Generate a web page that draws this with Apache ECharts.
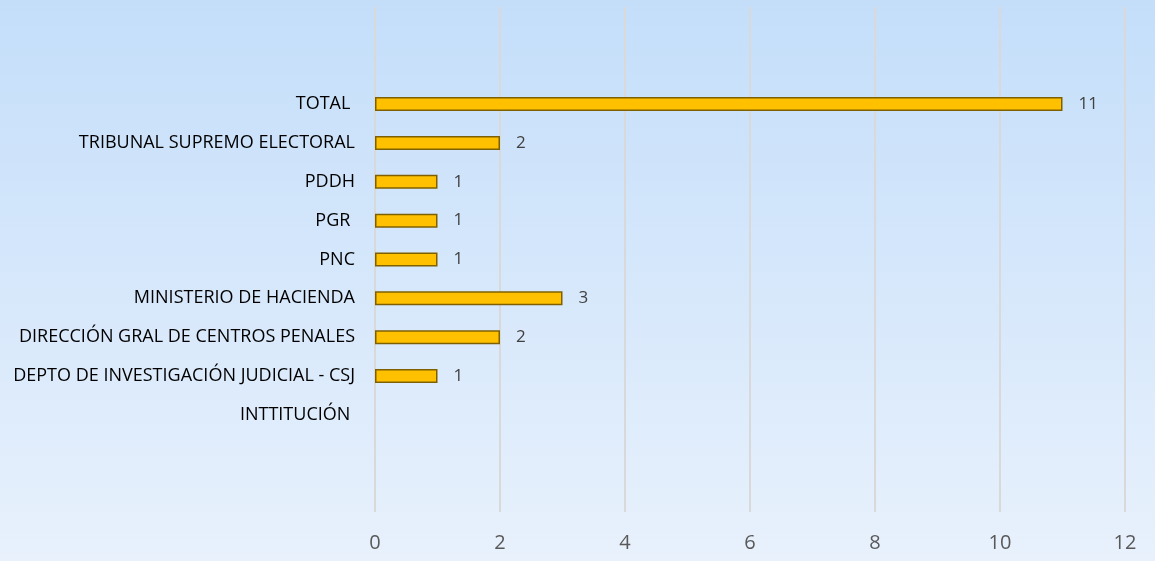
<!DOCTYPE html>
<html><head><meta charset="utf-8">
<script src="https://cdn.jsdelivr.net/npm/echarts@6/dist/echarts.min.js"></script>
<style>html,body{margin:0;padding:0;}#c{width:1155px;height:561px;}</style>
</head><body><div id="c"></div>
<script>
// categories bottom to top (empty slots are blank rows in the original)
const categories = ['', '', 'INTTITUCIÓN ', 'DEPTO DE INVESTIGACIÓN JUDICIAL - CSJ', 'DIRECCIÓN GRAL DE CENTROS PENALES', 'MINISTERIO DE HACIENDA', 'PNC', 'PGR ', 'PDDH', 'TRIBUNAL SUPREMO ELECTORAL', 'TOTAL ', '', ''];
const values = [null, null, null, 1, 2, 3, 1, 1, 1, 2, 11, null, null];
const xTicks = [0, 2, 4, 6, 8, 10, 12];

const chart = echarts.init(document.getElementById('c'));
chart.setOption({
  backgroundColor: new echarts.graphic.LinearGradient(0, 0, 0, 1, [
    {offset: 0, color: '#c4defa'}, {offset: 1, color: '#e8f1fc'}
  ]),
  grid: {left: 375, right: 30, top: 7, bottom: 49, containLabel: false},
  xAxis: {
    type: 'value', min: xTicks[0], max: xTicks[xTicks.length - 1], interval: 2,
    axisLine: {show: false}, axisTick: {show: false},
    splitLine: {lineStyle: {color: '#d9d9d9', width: 2}},
    axisLabel: {color: '#595959', fontSize: 20, fontFamily: 'Open Sans', margin: 21}
  },
  yAxis: {
    type: 'category', data: categories,
    axisLine: {show: false}, axisTick: {show: false},
    axisLabel: {color: '#000000', fontSize: 18, fontFamily: 'Open Sans', margin: 20, letterSpacing: -0.15}
  },
  series: [{
    type: 'bar', data: values, barWidth: 14,
    itemStyle: {color: '#ffc000', borderColor: '#7f6000', borderWidth: 1.5},
    label: {show: true, position: 'right', distance: 16, color: '#404040', fontSize: 17, fontFamily: 'Open Sans'},
    silent: true
  }],
  animation: false
});
</script></body></html>
